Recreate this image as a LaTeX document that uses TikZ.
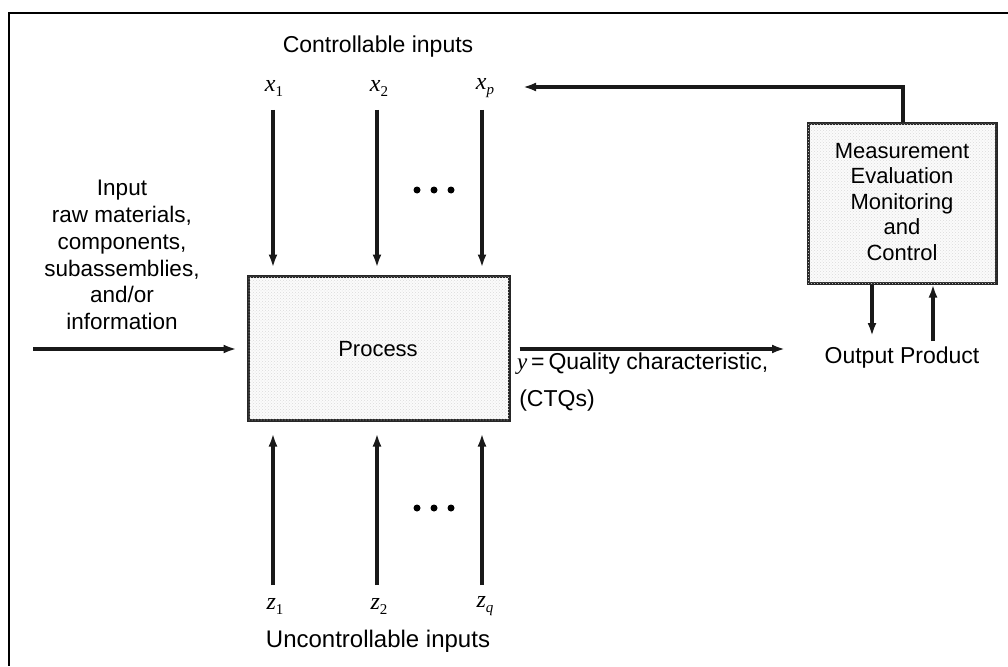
\documentclass[tikz,border=0pt]{standalone}
\usepackage{fontspec}
\setmainfont{Liberation Sans}
\newfontfamily\lblserif{Liberation Serif}
\usetikzlibrary{arrows.meta,patterns}
\newcommand{\vlab}[2]{{\lblserif\itshape #1}\raisebox{-5pt}{\fontsize{15}{15}\selectfont\lblserif #2}}
\begin{document}
\begin{tikzpicture}[x=1pt,y=-1pt,
  txt/.style={font=\fontsize{23}{26}\selectfont, inner sep=0pt, align=center},
  mth/.style={font=\fontsize{24}{26}\selectfont, inner sep=0pt},
  boxs/.style={draw=black!85, line width=3pt, fill=gray!3,
    postaction={pattern=crosshatch dots, pattern color=gray!28}},
  arr/.style={line width=3.4pt, black!90, -{Latex[length=13pt,width=9pt]}},
  dotc/.style={circle, fill=black, inner sep=0pt, minimum size=7pt},
  frame/.style={line width=2.2pt, black}]
\useasboundingbox (0,0) rectangle (1008,666);
% frame (top and left)
\draw[frame] (1008,13) -- (9,13) -- (9,666);

% boxes
\node[boxs, minimum width=261pt, minimum height=144pt, inner sep=0pt] (proc) at (378.5,348) {};
\node[txt, font=\fontsize{22}{26}\selectfont] (proclab) at (378,349) {Process};
\node[boxs, minimum width=188pt, minimum height=160pt, inner sep=0pt] (meas) at (902,203) {};
\node[txt, font=\fontsize{22}{25.5}\selectfont] (meastxt) at (902,202) {Measurement\\Evaluation\\Monitoring\\and\\Control};

% controllable inputs
\node[txt] (ctl) at (378,47) {Controllable inputs};
\node[mth] (x1) at (274,88) {\vlab{x}{1}};
\node[mth] (x2) at (379,88) {\vlab{x}{2}};
\node[mth] (xp) at (485,88) {\vlab{x}{\itshape p}};
\coordinate (t1) at (273,110);
\coordinate (t2) at (377,110);
\coordinate (t3) at (482,110);
\draw[arr, shorten >=7pt] (t1) -- (t1 |- proc.north);
\draw[arr, shorten >=7pt] (t2) -- (t2 |- proc.north);
\draw[arr, shorten >=7pt] (t3) -- (t3 |- proc.north);
\node[dotc] (d1) at (417,190) {};
\node[dotc] (d2) at (434,190) {};
\node[dotc] (d3) at (451,190) {};

% uncontrollable inputs
\coordinate (b1) at (273,585);
\coordinate (b2) at (377,585);
\coordinate (b3) at (482,585);
\draw[arr, shorten >=12pt] (b1) -- (b1 |- proc.south);
\draw[arr, shorten >=12pt] (b2) -- (b2 |- proc.south);
\draw[arr, shorten >=12pt] (b3) -- (b3 |- proc.south);
\node[dotc] (e1) at (417,508) {};
\node[dotc] (e2) at (434,508) {};
\node[dotc] (e3) at (451,508) {};
\node[mth] (z1) at (275,606) {\vlab{z}{1}};
\node[mth] (z2) at (379,606) {\vlab{z}{2}};
\node[mth] (zq) at (485,606) {\vlab{z}{\itshape q}};
\node[txt, font=\fontsize{24}{26}\selectfont] (unc) at (378,641) {Uncontrollable inputs};

% input
\node[txt, font=\fontsize{22.5}{26.8}\selectfont] (inp) at (122,255) {Input\\raw materials,\\components,\\subassemblies,\\and/or\\information};
\coordinate (inS) at (33,349);
\draw[arr, shorten >=10pt] (inS) -- (inS -| proc.west);

% output
\coordinate (outE) at (785,349);
\draw[arr] (proc.east |- outE) ++(9pt,0) coordinate (outS) -- (outE);
\node[txt, anchor=north west] (ylab) at (517,353) {{\lblserif\itshape y}\,=\,Quality characteristic,};
\node[txt] (ctq) at (557,401) {(CTQs)};

% measurement loop
\coordinate (fbc) at (903,87);
\coordinate (fbe) at (523,87);
\draw[arr] (meas.north -| fbc) -- (fbc) -- (fbe);
\node[txt] (outp) at (902,358) {Output Product};
\coordinate (dn) at (872,336);
\coordinate (up) at (933,341);
\draw[arr] (meas.south -| dn) -- (dn);
\draw[arr] (up) -- (up |- meas.south);
\end{tikzpicture}
\end{document}
